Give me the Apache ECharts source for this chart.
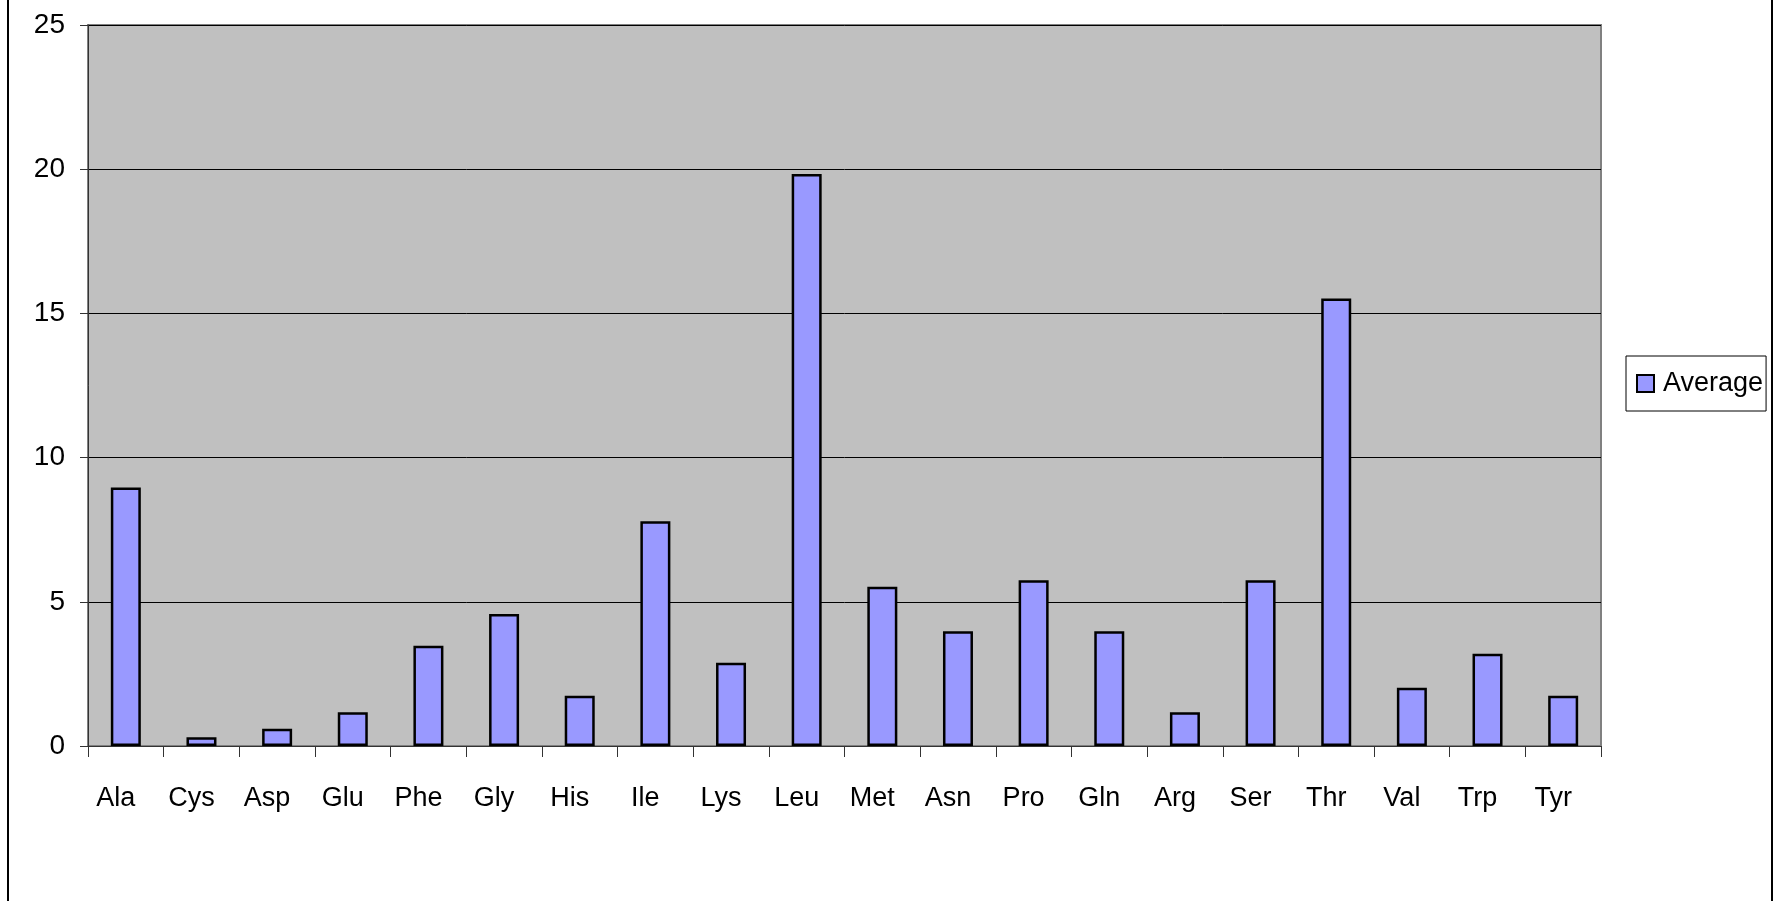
<!DOCTYPE html>
<html>
<head>
<meta charset="utf-8">
<script src="https://cdn.jsdelivr.net/npm/echarts@6/dist/echarts.min.js"></script>
<style>
html,body{margin:0;padding:0;background:#fff;}
#c{width:1779px;height:901px;}
</style>
</head>
<body>
<div id="c"></div>
<script>
const categories = ['Ala','Cys','Asp','Glu','Phe','Gly','His','Ile','Lys','Leu','Met','Asn','Pro','Gln','Arg','Ser','Thr','Val','Trp','Tyr'];
const averageValues = [8.96, 0.30, 0.60, 1.17, 3.48, 4.58, 1.74, 7.79, 2.89, 19.83, 5.52, 3.98, 5.75, 3.98, 1.17, 5.75, 15.52, 2.02, 3.20, 1.74];
const seriesName = 'Average';
const yMin = 0, yMax = 25, yStep = 5;

const FONT = "'Liberation Sans Narrow', 'Arial Narrow', 'Liberation Sans', Arial, sans-serif";
const chart = echarts.init(document.getElementById('c'), null, {renderer: 'canvas'});
chart.setOption({
  animation: false,
  backgroundColor: '#ffffff',
  grid: {
    left: 88, top: 25, right: 178, bottom: 155,
    show: true, backgroundColor: '#C0C0C0', borderColor: '#808080', borderWidth: 2
  },
  legend: {
    data: [seriesName],
    left: 1626, top: 356,
    orient: 'vertical',
    padding: [14, 3, 14, 10],
    itemGap: 0,
    itemWidth: 17, itemHeight: 17,
    borderColor: '#000', borderWidth: 1,
    backgroundColor: '#fff',
    icon: 'rect',
    textStyle: {fontFamily: FONT, fontSize: 27, color: '#000', padding: [0, 0, 0, 4]}
  },
  xAxis: {
    type: 'category',
    data: categories,
    boundaryGap: true,
    axisLine: {show: true, lineStyle: {color: '#333', width: 1}},
    axisTick: {show: true, interval: 0, length: 11, alignWithLabel: false, lineStyle: {color: '#333', width: 1}},
    axisLabel: {interval: 0, margin: 39, fontFamily: FONT, fontSize: 27, color: '#000', padding: [0, 20, 0, 0]},
    splitLine: {show: false}
  },
  yAxis: {
    type: 'value',
    min: yMin, max: yMax, interval: yStep,
    axisLine: {show: true, lineStyle: {color: '#333', width: 1}},
    axisTick: {show: true, length: 8, lineStyle: {color: '#333', width: 1}},
    axisLabel: {margin: 23, fontFamily: FONT, fontSize: 28, color: '#000'},
    splitLine: {show: true, lineStyle: {color: '#000', width: 1}}
  },
  series: [{
    name: seriesName,
    type: 'bar',
    data: averageValues,
    barWidth: 30,
    itemStyle: {color: '#9999FF', borderColor: '#000', borderWidth: 2.5}
  }],
  graphic: [
    {type: 'line', shape: {x1: 8, y1: 0, x2: 8, y2: 901}, style: {stroke: '#000', lineWidth: 2}},
    {type: 'line', shape: {x1: 1772, y1: 0, x2: 1772, y2: 901}, style: {stroke: '#000', lineWidth: 2}}
  ]
});
</script>
</body>
</html>
